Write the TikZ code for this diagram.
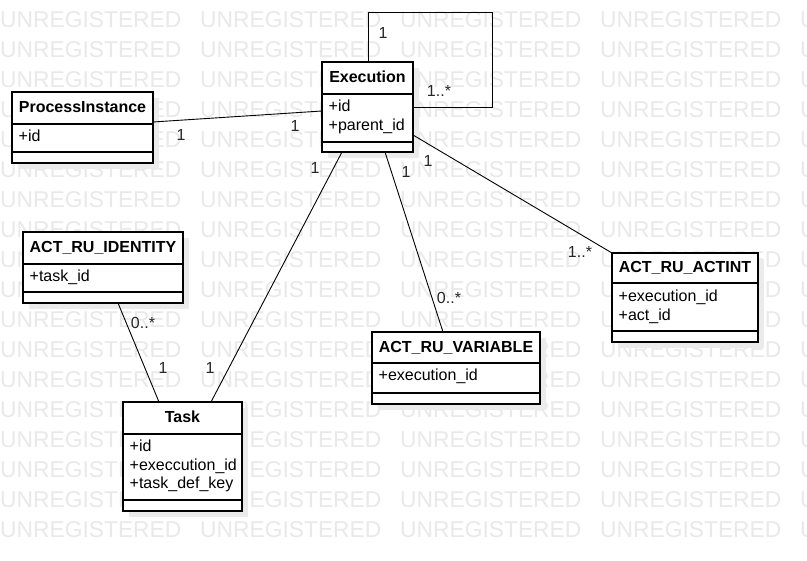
\documentclass[tikz,border=0pt]{standalone}
\usepackage{fontspec}
\setmainfont{Liberation Sans}
\usetikzlibrary{shadows}
\definecolor{wmgray}{gray}{0.915}
\newcommand\umlclass[8]{% name, x, y, w, h, header h, attr h, title
  \node[cls, minimum width=#4pt, minimum height=#5pt] (#1) at (#2,#3) {};
  \draw[divl] ([yshift=-#6pt]#1.north west) -- ([yshift=-#6pt]#1.north east);
  \draw[divl] ([yshift=-#6pt-#7pt]#1.north west) -- ([yshift=-#6pt-#7pt]#1.north east);
  \node[ttl] (#1-t) at ([yshift=-#6pt/2-5pt]#1.north) {#8};
}
\begin{document}
\begin{tikzpicture}[x=1pt,y=-1pt,
  cls/.style={draw=black, line width=1.1pt, fill=white, inner sep=0pt, outer sep=0pt, anchor=north west,
    general shadow={fill=black!8, shadow xshift=6pt, shadow yshift=-6pt}},
  ttl/.style={font=\fontsize{16}{19}\selectfont\bfseries, anchor=base, inner sep=0pt},
  attr/.style={font=\fontsize{16}{19}\selectfont, anchor=base west, inner sep=0pt},
  mult/.style={font=\fontsize{16}{19}\selectfont, text=black!85, inner sep=0pt},
  conn/.style={draw=black, line width=0.9pt},
  divl/.style={draw=black, line width=1.1pt},
  wm/.style={font=\fontsize{22.8}{26}\selectfont, text=wmgray, anchor=base west, inner sep=0pt}]

\useasboundingbox (0,0) rectangle (807,561);
\fill[white] (0,0) rectangle (807,561);
\begin{scope}
  \clip (0,0) rectangle (807,561);
  \foreach \r in {0,...,17}{
    \foreach \c in {0,...,4}{
      \node[wm] (wm-\r-\c) at (200*\c, 27.5+30*\r) {UNREGISTERED};
    }
  }
\end{scope}

% connectors (drawn before boxes)
\coordinate (loopc) at (492,12);

% classes
\umlclass{pi}{12}{92}{141}{71}{32}{28}{ProcessInstance}
\node[attr] (pi-a1) at (18.5,142) {+id};

\umlclass{exec}{322}{62}{91}{90}{32}{48}{Execution}
\node[attr] (exec-a1) at (328.5,112) {+id};
\node[attr] (exec-a2) at (328.5,130.5) {+parent\_id};

\umlclass{ident}{23}{232}{160}{71}{32}{28}{ACT\_RU\_IDENTITY}
\node[attr] (ident-a1) at (29.5,282) {+task\_id};

\umlclass{task}{123}{402}{119}{109}{32}{66}{Task}
\node[attr] (task-a1) at (129.5,452) {+id};
\node[attr] (task-a2) at (129.5,470.5) {+execcution\_id};
\node[attr] (task-a3) at (129.5,489) {+task\_def\_key};

\umlclass{var}{372}{332}{168}{72}{31}{30}{ACT\_RU\_VARIABLE}
\node[attr] (var-a1) at (378.5,381) {+execution\_id};

\umlclass{actint}{612}{253}{146}{89}{30}{48}{ACT\_RU\_ACTINT}
\node[attr] (actint-a1) at (618.5,301.5) {+execution\_id};
\node[attr] (actint-a2) at (618.5,320.5) {+act\_id};

% connectors
\draw[conn] ([yshift=-30pt]pi.north east) -- ([yshift=-49pt]exec.north west);
\draw[conn] ([xshift=20pt]exec.south west) -- ([xshift=88pt]task.north west);
\draw[conn] ([xshift=95pt]ident.south west) -- ([xshift=36pt]task.north west);
\draw[conn] ([xshift=63pt]exec.south west) -- ([xshift=71pt]var.north west);
\draw[conn] ([yshift=-73pt]exec.north east) -- (actint.north west);
\draw[conn] ([xshift=46pt]exec.north west) |- (loopc) |- ([yshift=-45pt]exec.north east);

% multiplicities
\node[mult] (m1) at (383,33) {1};
\node[mult] (m2) at (439,91) {1..*};
\node[mult] (m3) at (181,135) {1};
\node[mult] (m4) at (295,126) {1};
\node[mult] (m5) at (315,168) {1};
\node[mult] (m6) at (210,368) {1};
\node[mult] (m7) at (406,172) {1};
\node[mult] (m8) at (449,298) {0..*};
\node[mult] (m9) at (428,161) {1};
\node[mult] (m10) at (580,252) {1..*};
\node[mult] (m11) at (143,323) {0..*};
\node[mult] (m12) at (163,368) {1};
\end{tikzpicture}
\end{document}
